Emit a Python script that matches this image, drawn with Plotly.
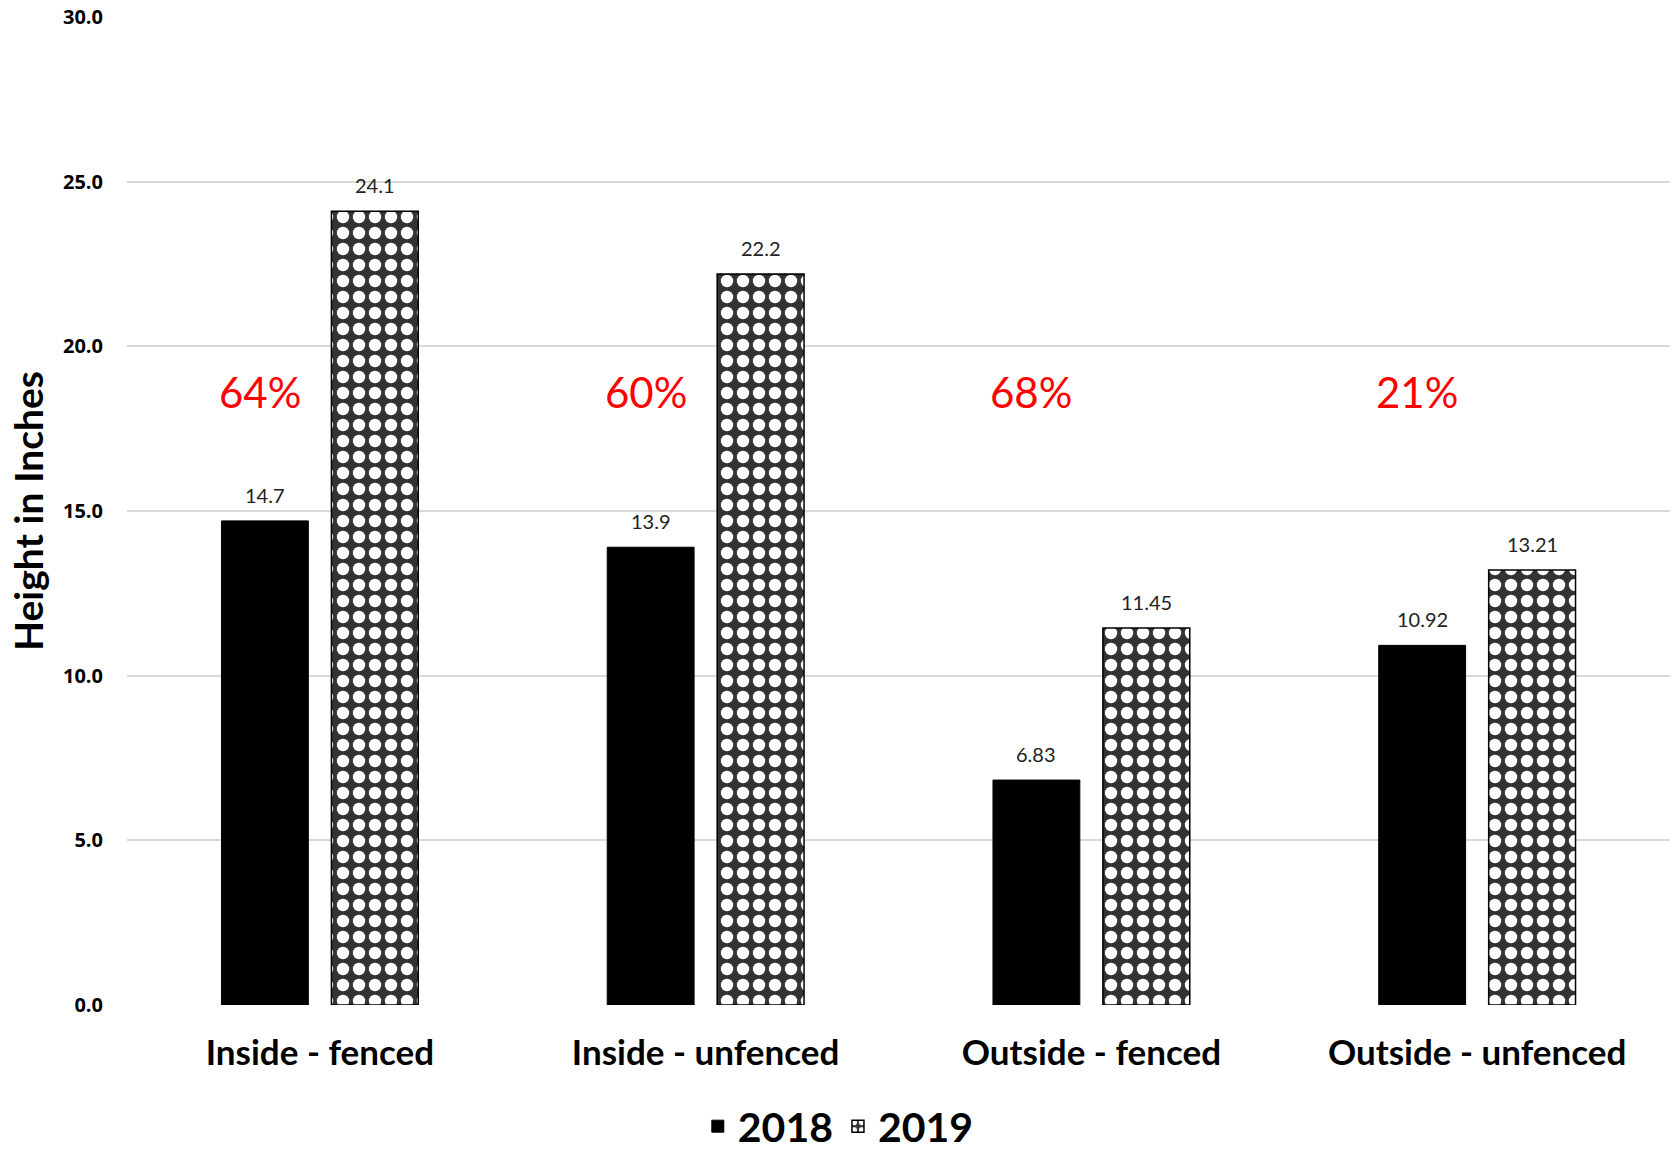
import plotly.graph_objects as go

categories = ["Inside - fenced", "Inside - unfenced", "Outside - fenced", "Outside - unfenced"]
vals_2018 = [14.7, 13.9, 6.83, 10.92]
vals_2019 = [24.1, 22.2, 11.45, 13.21]
labels_2018 = ["14.7", "13.9", "6.83", "10.92"]
labels_2019 = ["24.1", "22.2", "11.45", "13.21"]
pct_labels = ["64%", "60%", "68%", "21%"]
pct_y = 18.6

FONT = "Lato"
BAR_OFFSET = 55  # px from category centre to each bar centre

fig = go.Figure()
fig.add_trace(go.Bar(
    name="2018", x=categories, y=vals_2018,
    marker=dict(color="black", line=dict(color="black", width=1)),
))
fig.add_trace(go.Bar(
    name="2019", x=categories, y=vals_2019,
    marker=dict(color="#333333", line=dict(color="black", width=1.5),
                pattern=dict(shape=".", fgcolor="white", bgcolor="#333333", fgopacity=1,
                             size=16, solidity=0.47, fillmode="replace")),
))

for series, labels, sign in ((vals_2018, labels_2018, -1), (vals_2019, labels_2019, 1)):
    for c, v, t in zip(categories, series, labels):
        fig.add_annotation(x=c, y=v, xref="x", yref="y", text=t, showarrow=False,
                           xshift=sign * BAR_OFFSET, yanchor="bottom", yshift=12,
                           font=dict(family=FONT, size=20, color="#222"))

for c, p in zip(categories, pct_labels):
    fig.add_annotation(x=c, y=pct_y, xref="x", yref="y", text=p, showarrow=False,
                       xshift=-60, font=dict(family=FONT, size=42, color="red"))

fig.update_layout(
    width=1675, height=1154,
    margin=dict(l=127, r=5, t=17, b=149, autoexpand=False),
    plot_bgcolor="white", paper_bgcolor="white",
    barmode="group", bargap=0.43, bargroupgap=0.21,
    font=dict(family=FONT, color="black"),
    legend=dict(orientation="h", x=0.461, xanchor="center", y=-0.123, yanchor="middle",
                font=dict(family=FONT, size=41, color="black", weight="bold"),
                itemwidth=30),
    xaxis=dict(showgrid=False, showline=False, ticks="", automargin=False,
               tickfont=dict(family=FONT, size=35, color="black", weight="bold"),
               ticklabelstandoff=24),
    yaxis=dict(range=[0, 30], dtick=5, tickformat=".1f", showgrid=True, automargin=False,
               gridcolor="#d9d9d9", gridwidth=1.5, zeroline=False, showline=False,
               tickfont=dict(family="Open Sans", size=20, color="black", weight="bold"),
               ticklabelstandoff=23,
               title=dict(text="Height in Inches", standoff=7,
                          font=dict(family=FONT, size=39, color="black", weight="bold"))),
)

fig.write_html("out.html", config={"displayModeBar": False},
               post_script="document.body.style.margin='0';")
